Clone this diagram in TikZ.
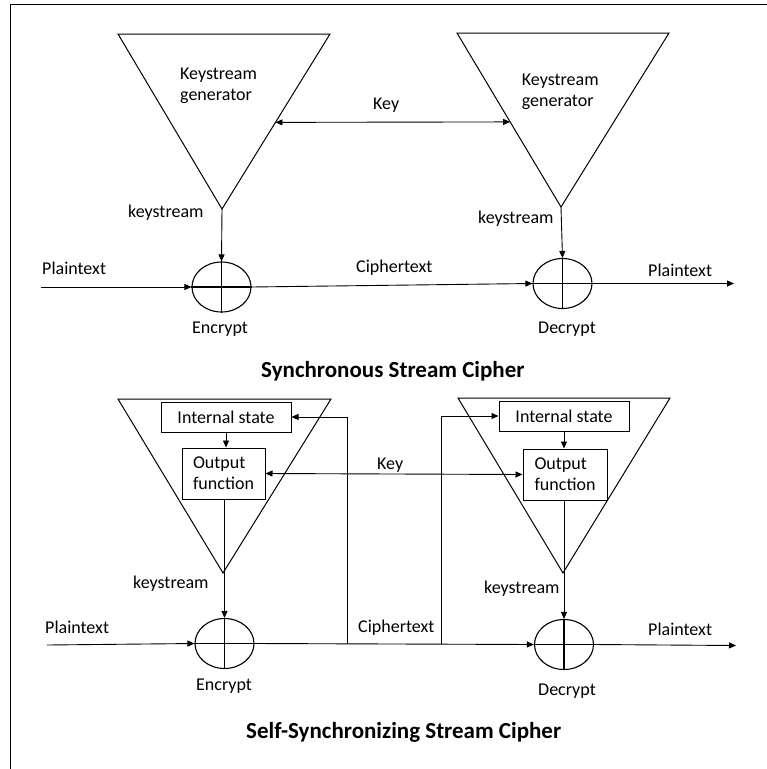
\documentclass[tikz,border=0pt]{standalone}
\usepackage{fontspec}
\setmainfont{Carlito}
\usetikzlibrary{arrows.meta,shapes.geometric,calc}

\tikzset{
  lbl/.style={font=\fontsize{18}{21}\selectfont, inner sep=0pt, anchor=base west, align=left},
  ttl/.style={font=\fontsize{23}{27}\selectfont\bfseries, inner sep=0pt, anchor=base west},
  shapeline/.style={line width=1pt},
  conn/.style={line width=0.9pt},
  arr/.style={conn, -{Triangle[length=7pt,width=6pt]}},
  darr/.style={conn, {Triangle[length=7pt,width=6pt]}-{Triangle[length=7pt,width=6pt]}},
  xorop/.style={draw, ellipse, line width=1.1pt, minimum width=59pt, minimum height=50pt, inner sep=0pt},
  blockbox/.style={draw, line width=1pt, inner sep=0pt, align=left,
    font=\fontsize{18}{21}\selectfont},
}

\begin{document}
\begin{tikzpicture}[x=1pt,y=-1pt]
\useasboundingbox (0,0) rectangle (767,769);

% frame
\draw[line width=1.6pt] (10.5,769) -- (10.5,4.5) -- (767,4.5);

% ---------------- synchronous stream cipher ----------------
\coordinate (t1a) at (118,34);
\coordinate (t1b) at (330,34);
\coordinate (t1c) at (222,209);
\coordinate (t2a) at (457,33);
\coordinate (t2b) at (669,33);
\coordinate (t2c) at (561,207);
\draw[shapeline] (t1a) -- (t1b) -- (t1c) -- cycle;
\draw[shapeline] (t2a) -- (t2b) -- (t2c) -- cycle;

% multi-line labels: base anchor sits on the last line
\node[lbl] (g1) at (180,100) {Keystream\\generator};
\node[lbl] (g2) at (521.7,106) {Keystream\\generator};

\node[xorop] (e1) at (221.5,287) {};
\node[xorop] (d1) at (562.5,283.5) {};
\draw[line width=1.1pt] (e1.north) -- (e1.south) (e1.west) -- (e1.east);
\draw[line width=1.1pt] (d1.north) -- (d1.south) (d1.west) -- (d1.east);

\coordinate (k1) at ($(t1b)!0.505!(t1c)$);
\coordinate (k2) at ($(t2a)!0.511!(t2c)$);
\draw[darr] (k1) -- (k2);

\coordinate (pin1) at (41,287);
\coordinate (pout1) at (734,283.5);
\draw[arr] (t1c) -- (e1.north);
\draw[arr] (t2c) -- (d1.north);
\draw[arr] (pin1) -- (e1.west);
\draw[arr] (e1.east) -- (d1.west);
\draw[arr] (d1.east) -- (pout1);

\node[lbl] (key1) at (373,109.5) {Key};
\node[lbl] (ks1) at (128,217) {keystream};
\node[lbl] (ks2) at (478,223) {keystream};
\node[lbl] (pt1) at (42,274) {Plaintext};
\node[lbl] (ct1) at (356,272) {Ciphertext};
\node[lbl] (pt2) at (648,276) {Plaintext};
\node[lbl] (enc1) at (192,333) {Encrypt};
\node[lbl] (dec1) at (538,333) {Decrypt};
\node[ttl] (title1) at (261,377) {Synchronous Stream Cipher};

% ---------------- self-synchronizing stream cipher ----------------
\coordinate (b1a) at (118,399);
\coordinate (b1b) at (331,399);
\coordinate (b1c) at (223,573);
\coordinate (b2a) at (458,398);
\coordinate (b2b) at (670,398);
\coordinate (b2c) at (563,573);
\draw[shapeline] (b1a) -- (b1b) -- (b1c) -- cycle;
\draw[shapeline] (b2a) -- (b2b) -- (b2c) -- cycle;

\node[blockbox, minimum width=130pt, minimum height=30pt] (is1) at (226,417) {Internal state};
\node[blockbox, minimum width=83pt, minimum height=51pt] (of1) at (223.5,473.5) {Output\\function};
\node[blockbox, minimum width=130pt, minimum height=30pt] (is2) at (564,416) {Internal state};
\node[blockbox, minimum width=84pt, minimum height=51pt] (of2) at (565,474.5) {Output\\function};

\node[xorop] (e2) at (224.5,643.5) {};
\node[xorop] (d2) at (564,644.5) {};
\draw[line width=1.1pt] (e2.north) -- (e2.south) (e2.west) -- (e2.east);
\draw[line width=1.1pt] (d2.north) -- (d2.south) (d2.west) -- (d2.east);

\draw[arr] (is1.south) -- (is1.south |- of1.north);
\draw[arr] (is2.south) -- (is2.south |- of2.north);
\draw[arr] (e2.north |- of1.south) -- (e2.north);
\draw[arr] (d2.north |- of2.south) -- (d2.north);
\draw[darr] (of1.east) -- (of2.west);

\coordinate (pin2) at (47,645);
\coordinate (pout2) at (736,645.5);
\coordinate (fb1) at (347,643.8);
\coordinate (fb2) at (441,644.2);
\draw[arr] (pin2) -- (e2.west);
\draw[arr] (e2.east) -- (d2.west);
\draw[arr] (d2.east) -- (pout2);
\draw[arr] (fb1) |- (is1.east);
\draw[arr] (fb2) |- (is2.west);

\node[lbl] (key2) at (377,469) {Key};
\node[lbl] (ks3) at (133,588) {keystream};
\node[lbl] (ks4) at (484,593) {keystream};
\node[lbl] (pt3) at (45,633) {Plaintext};
\node[lbl] (ct2) at (358,632) {Ciphertext};
\node[lbl] (pt4) at (648,635) {Plaintext};
\node[lbl] (enc2) at (196,690) {Encrypt};
\node[lbl] (dec2) at (538,695) {Decrypt};
\node[ttl] (title2) at (246,738) {Self-Synchronizing Stream Cipher};
\end{tikzpicture}
\end{document}
